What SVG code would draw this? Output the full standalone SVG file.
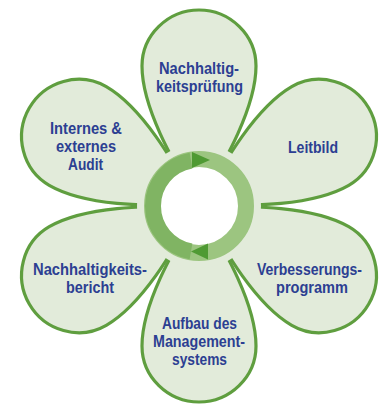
<svg xmlns="http://www.w3.org/2000/svg" width="388" height="405" viewBox="0 0 388 405">
  <style>
    .petal { fill: #e2ebda; stroke: #5f9e3f; stroke-width: 3.2; stroke-linejoin: round; }
    .lbl { font-family: "Liberation Sans", Arial, sans-serif; font-weight: bold; font-size: 16px; fill: #2c3f92; text-anchor: middle; }
  </style>
  <defs>
    <!-- teardrop petal, tip at origin, pointing up -->
    <path id="petalShape" d="M0,0 C26,-45 57,-98 57,-140 C57,-171 31,-196 0,-196 C-31,-196 -57,-171 -57,-140 C-57,-98 -26,-45 0,0 Z"/>
  </defs>
  <rect width="388" height="405" fill="#ffffff"/>

  <g id="petal-pruefung">
    <use href="#petalShape" class="petal" transform="translate(199,206) rotate(0)"/>
    <text class="lbl" x="199" y="73.5" textLength="80" lengthAdjust="spacingAndGlyphs">Nachhaltig-</text>
    <text class="lbl" x="199.5" y="91.5" textLength="87" lengthAdjust="spacingAndGlyphs">keitsprüfung</text>
  </g>
  <g id="petal-leitbild">
    <use href="#petalShape" class="petal" transform="translate(199,206) rotate(60)"/>
    <text class="lbl" x="313" y="153" textLength="50" lengthAdjust="spacingAndGlyphs">Leitbild</text>
  </g>
  <g id="petal-verbesserung">
    <use href="#petalShape" class="petal" transform="translate(199,206) rotate(120)"/>
    <text class="lbl" x="309.5" y="275" textLength="105" lengthAdjust="spacingAndGlyphs">Verbesserungs-</text>
    <text class="lbl" x="312" y="293" textLength="72" lengthAdjust="spacingAndGlyphs">programm</text>
  </g>
  <g id="petal-management">
    <use href="#petalShape" class="petal" transform="translate(199,206) rotate(180)"/>
    <text class="lbl" x="199.5" y="329" textLength="75" lengthAdjust="spacingAndGlyphs">Aufbau des</text>
    <text class="lbl" x="199" y="347" textLength="92" lengthAdjust="spacingAndGlyphs">Management-</text>
    <text class="lbl" x="199.5" y="365" textLength="55" lengthAdjust="spacingAndGlyphs">systems</text>
  </g>
  <g id="petal-bericht">
    <use href="#petalShape" class="petal" transform="translate(199,206) rotate(240)"/>
    <text class="lbl" x="90" y="275" textLength="114" lengthAdjust="spacingAndGlyphs">Nachhaltigkeits-</text>
    <text class="lbl" x="90" y="293" textLength="48" lengthAdjust="spacingAndGlyphs">bericht</text>
  </g>
  <g id="petal-audit">
    <use href="#petalShape" class="petal" transform="translate(199,206) rotate(300)"/>
    <text class="lbl" x="86" y="134" textLength="72" lengthAdjust="spacingAndGlyphs">Internes &amp;</text>
    <text class="lbl" x="86" y="152" textLength="60" lengthAdjust="spacingAndGlyphs">externes</text>
    <text class="lbl" x="85.5" y="170" textLength="35" lengthAdjust="spacingAndGlyphs">Audit</text>
  </g>

  <!-- central cycle -->
  <g id="cycle">
    <circle cx="199" cy="206" r="62" fill="#e2ebda"/>
    <circle cx="199" cy="206" r="47" fill="#ffffff" stroke="#9cc580" stroke-width="16"/>
    <path d="M191,251.3 A46,46 0 0 1 191,160.7" fill="none" stroke="#80b463" stroke-width="16"/>
    <polygon points="192,152 210,160 192,168" fill="#4f9a33"/>
    <polygon points="208,243.5 191,251.5 208,259.5" fill="#4f9a33"/>
  </g>
</svg>
